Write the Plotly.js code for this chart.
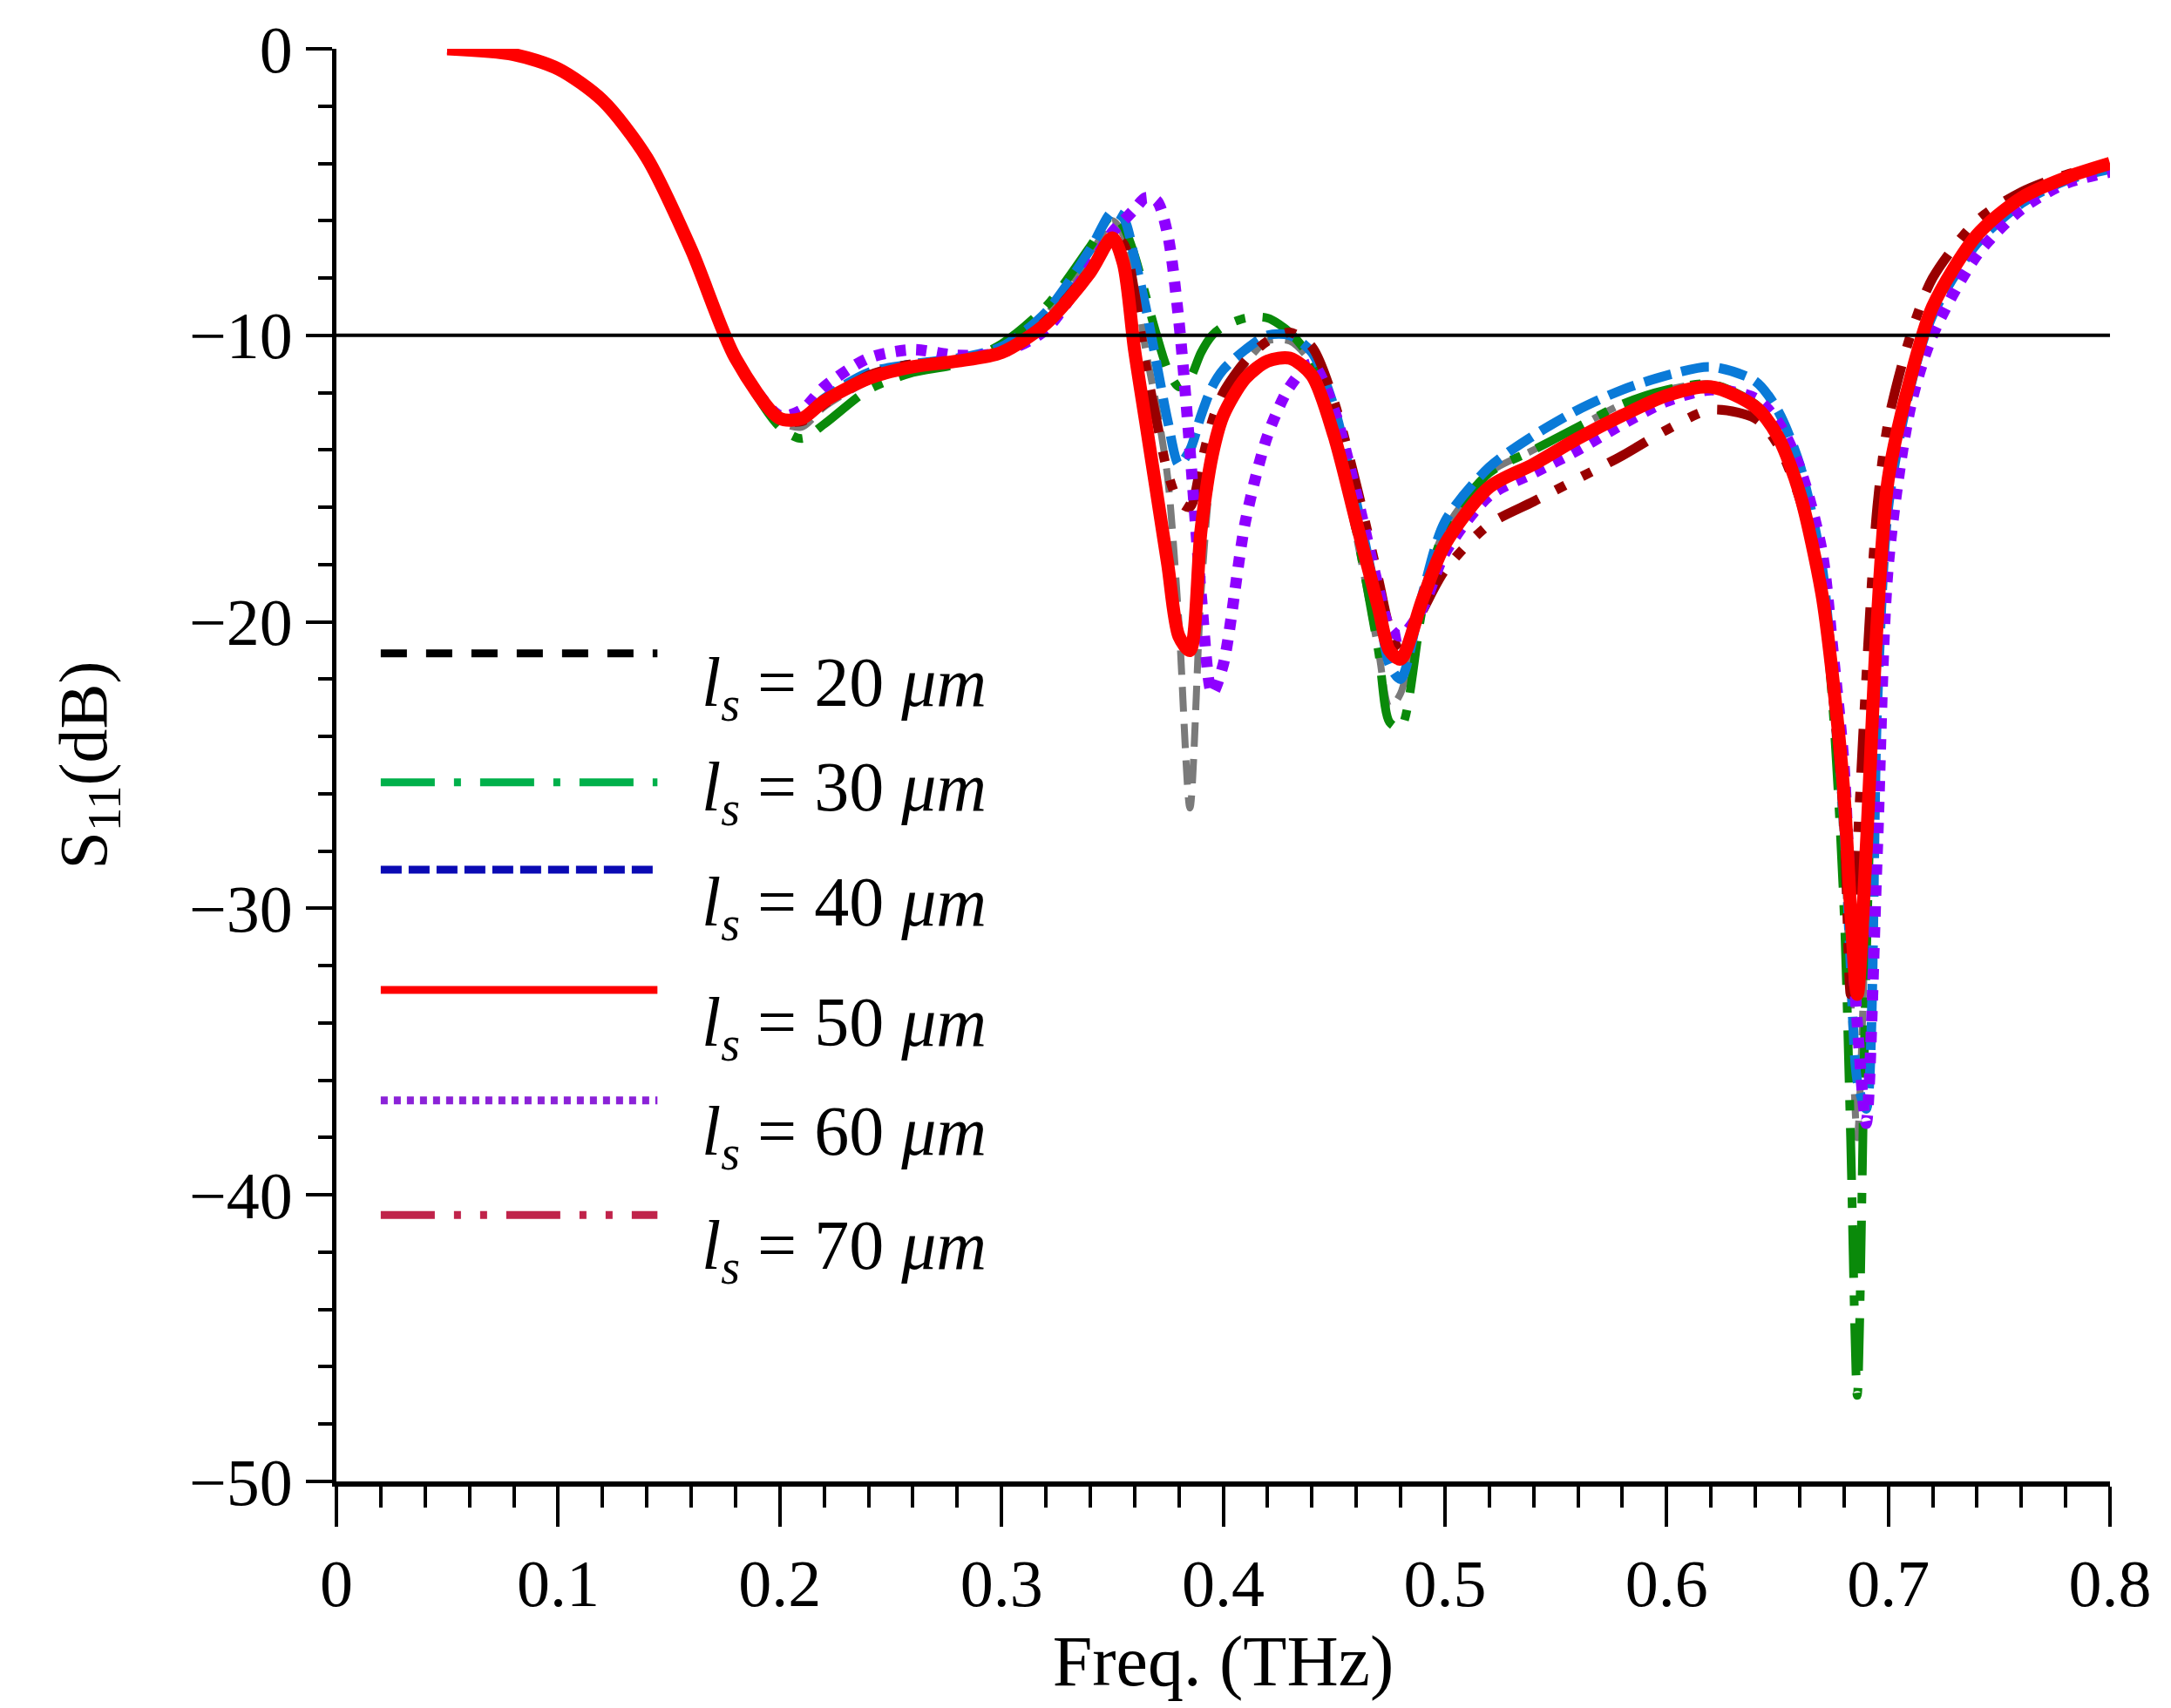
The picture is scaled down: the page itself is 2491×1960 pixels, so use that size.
<!DOCTYPE html>
<html>
<head>
<meta charset="utf-8">
<script src="https://cdn.plot.ly/plotly-3.0.1.min.js"></script>
<style>body{margin:0;background:#fff}</style>
</head>
<body>
<div id="chart"></div>
<script>
// S11 vs frequency for several slot lengths
const x20 = [0.05,0.08,0.1,0.12,0.14,0.16,0.18,0.2,0.21,0.22,0.24,0.26,0.28,0.3,0.32,0.34,0.35,0.355,0.36,0.365,0.37,0.375,0.38,0.385,0.39,0.395,0.4,0.41,0.42,0.43,0.44,0.45,0.46,0.47,0.475,0.48,0.49,0.5,0.52,0.54,0.56,0.58,0.6,0.62,0.64,0.65,0.66,0.67,0.675,0.68,0.683,0.686,0.69,0.695,0.7,0.71,0.72,0.74,0.76,0.78,0.8];
const s20 = [0,-0.2,-0.7,-1.8,-3.8,-7,-10.8,-13,-13.2,-12.5,-11.6,-11.1,-10.9,-10.5,-9.3,-7.2,-6,-6.5,-8,-10.5,-12.5,-15,-20,-26.5,-19,-14.5,-12.8,-11,-10.2,-10.2,-11,-13.5,-17,-21,-23,-22.5,-19,-16.8,-14.8,-14,-13.2,-12.4,-11.9,-11.7,-12.4,-13.4,-15.5,-19,-23,-28,-33,-38,-30,-20,-15,-11.3,-9,-6.5,-5.2,-4.5,-4.1];
const s30 = [0,-0.2,-0.7,-1.8,-3.8,-7,-10.8,-13.2,-13.6,-13.1,-11.9,-11.3,-11,-10.3,-9,-6.9,-5.8,-6.2,-7.2,-8.6,-10,-11.2,-11.8,-11.5,-10.6,-10,-9.7,-9.4,-9.4,-9.9,-10.9,-13.3,-16.8,-21,-23.5,-23.7,-19.5,-16.8,-14.8,-14,-13.2,-12.4,-11.9,-11.7,-12.4,-13.4,-15.5,-19,-23,-30,-38,-47,-32,-20,-15,-11.3,-9,-6.5,-5.2,-4.5,-4.1];
const s40 = [0,-0.2,-0.7,-1.8,-3.8,-7,-10.8,-12.9,-12.9,-12.2,-11.3,-11,-10.8,-10.4,-9.2,-7,-5.7,-5.9,-7.3,-9,-11,-13,-14.5,-14,-12.8,-11.8,-11.2,-10.5,-10,-10,-10.6,-12.5,-15.8,-19.5,-21.5,-22,-19,-16.5,-14.6,-13.5,-12.6,-11.9,-11.4,-11.1,-11.6,-12.6,-14.5,-18,-22,-27,-32,-36,-37,-23,-16,-11.8,-9.3,-6.8,-5.4,-4.6,-4.2];
const s50 = [0,-0.2,-0.7,-1.8,-3.8,-7,-10.8,-12.9,-12.9,-12.3,-11.5,-11.1,-10.9,-10.6,-9.6,-7.8,-6.6,-7.5,-10.5,-13,-15.5,-18,-20.5,-21,-16.8,-14.2,-12.8,-11.5,-10.9,-10.8,-11.4,-13.5,-16.5,-19.5,-21,-21.3,-19.2,-17.3,-15.3,-14.5,-13.6,-12.8,-12.1,-11.8,-12.5,-13.5,-15.5,-19,-22,-26,-30,-33,-28,-20,-15,-11.5,-9,-6.5,-5.2,-4.5,-4];
const s60 = [0,-0.2,-0.7,-1.8,-3.8,-7,-10.8,-12.8,-12.6,-11.8,-10.8,-10.5,-10.7,-10.6,-9.8,-7.6,-6.4,-6,-5.6,-5.2,-5.3,-6.5,-9.5,-14,-19,-22.5,-21.5,-16.5,-13.5,-11.8,-11,-12.6,-15.5,-18.8,-20.2,-20.5,-19.5,-17.6,-15.6,-14.8,-14,-13.1,-12.3,-11.9,-12.2,-13,-14.6,-17.5,-21,-25,-30,-34,-37.5,-28,-18,-12.5,-10,-7.2,-5.6,-4.7,-4.3];
const s70 = [0,-0.2,-0.7,-1.8,-3.8,-7,-10.8,-12.9,-13,-12.4,-11.4,-11,-10.9,-10.6,-9.5,-7.7,-6.6,-6.8,-8.5,-11,-13,-14.8,-15.8,-16,-14.5,-13,-12,-10.9,-10.2,-9.9,-10.4,-12.3,-15.2,-18.5,-20.2,-21,-19.6,-18.2,-16.6,-15.8,-15,-14.2,-13.3,-12.6,-12.9,-13.8,-15.7,-19,-22.5,-27,-33,-28,-22,-16,-13,-10,-8,-6,-5,-4.4,-4];

const names = ['ls = 20 μm','ls = 30 μm','ls = 40 μm','ls = 50 μm','ls = 60 μm','ls = 70 μm'];
const legendLabels = ['20','30','40','50','60','70'];

function trace(y, color, width, dash, name) {
  return {x: x20, y: y, name: name, mode: 'lines', type: 'scatter',
    line: {color: color, width: width, dash: dash, shape: 'spline', smoothing: 0.8}};
}

const data = [
  trace(s20, '#7a7a7a', 8, '28px,14px', names[0]),
  trace(s30, '#0a8a0a', 10, '60px,20px,12px,20px', names[1]),
  trace(s40, '#0a7ad8', 11, '32px,12px', names[2]),
  trace(s70, '#990000', 11, '50px,22px,12px,22px,12px,22px', names[5]),
  trace(s60, '#8e00ff', 13, '12px,12px', names[4]),
  trace(s50, '#ff0000', 15, 'solid', names[3])
];

// custom legend drawn in paper coordinates
const legColors = ['#000000','#00b04a','#0a0ab4','#ff0000','#8b22d8','#c0234a'];
const legDash = ['30px,22px','62px,22px,8px,22px','24px,8px','solid','8px,7px','62px,22px,8px,22px,8px,22px'];
const legY = [0.578,0.488,0.427,0.343,0.266,0.186];
const txtY = [0.554,0.481,0.401,0.317,0.241,0.161];
const shapes = [{type: 'line', xref: 'paper', yref: 'y', x0: 0, x1: 1, y0: -10, y1: -10,
  line: {color: '#000', width: 4}}];
const annotations = [];
legendLabels.forEach((v, i) => {
  shapes.push({type: 'line', xref: 'paper', yref: 'paper', x0: 0.025, x1: 0.181, y0: legY[i], y1: legY[i],
    line: {color: legColors[i], width: 9, dash: legDash[i]}});
  annotations.push({xref: 'paper', yref: 'paper', x: 0.205, y: txtY[i], xanchor: 'left', yanchor: 'middle',
    showarrow: false, text: '<i>l<sub>s</sub></i> = ' + v + ' <i>μm</i>',
    font: {family: 'Liberation Serif, Times New Roman, serif', size: 80, color: '#000'}});
});

const layout = {
  width: 2491, height: 1960,
  margin: {l: 386, r: 70, t: 56, b: 260},
  showlegend: false,
  paper_bgcolor: '#fff', plot_bgcolor: '#fff',
  font: {family: 'Liberation Serif, Times New Roman, serif', size: 74, color: '#000'},
  xaxis: {range: [0, 0.8], tickvals: [0,0.1,0.2,0.3,0.4,0.5,0.6,0.7,0.8],
    ticktext: ['0','0.1','0.2','0.3','0.4','0.5','0.6','0.7','0.8'],
    ticks: 'outside', ticklen: 46, tickwidth: 4, tickcolor: '#000',
    minor: {dtick: 0.02, ticks: 'outside', ticklen: 24, tickwidth: 4, tickcolor: '#000'},
    showline: true, linecolor: '#000', linewidth: 6, showgrid: false, zeroline: false,
    tickfont: {size: 76},
    title: {text: 'Freq. (THz)', font: {size: 82}, standoff: 20}},
  yaxis: {range: [-50, 0], tickvals: [0,-10,-20,-30,-40,-50],
    ticktext: ['0','\u221210','\u221220','\u221230','\u221240','\u221250'],
    ticks: 'outside', ticklen: 30, tickwidth: 4, tickcolor: '#000',
    minor: {dtick: 2, ticks: 'outside', ticklen: 16, tickwidth: 4, tickcolor: '#000'},
    showline: true, linecolor: '#000', linewidth: 5, showgrid: false, zeroline: false,
    tickfont: {size: 76},
    title: {text: 'S<sub>11</sub>(dB)', font: {size: 78}, standoff: 70}},
  shapes: shapes,
  annotations: annotations
};

Plotly.newPlot('chart', data, layout, {displayModeBar: false, staticPlot: true});
</script>
</body>
</html>
